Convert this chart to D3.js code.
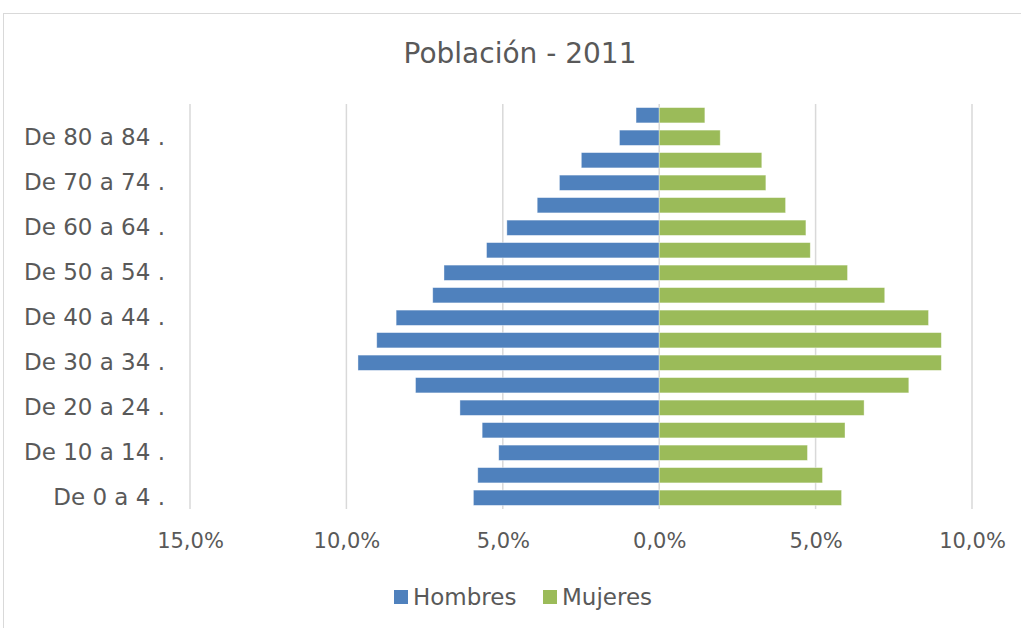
<!DOCTYPE html>
<html>
<head>
<meta charset="utf-8">
<script src="https://cdn.jsdelivr.net/npm/d3@7"></script>
<style>
  body { margin: 0; background: #fff; }
  text { font-family: "DejaVu Sans", sans-serif; fill: #595959; }
</style>
</head>
<body>
<svg id="chart"></svg>
<script>
const width = 1021;
const height = 628;

// age groups, bottom to top
const groups = ["De 0 a 4 .", "De 5 a 9 .", "De 10 a 14 .", "De 15 a 19 .", "De 20 a 24 .",
  "De 25 a 29 .", "De 30 a 34 .", "De 35 a 39 .", "De 40 a 44 .", "De 45 a 49 .",
  "De 50 a 54 .", "De 55 a 59 .", "De 60 a 64 .", "De 65 a 69 .", "De 70 a 74 .",
  "De 75 a 79 .", "De 80 a 84 .", "De 85 y más ."];
const hombres = [5.94, 5.80, 5.13, 5.66, 6.37, 7.79, 9.63, 9.03, 8.41, 7.24,
  6.88, 5.52, 4.87, 3.90, 3.19, 2.49, 1.27, 0.74];
const mujeres = [5.83, 5.22, 4.74, 5.94, 6.55, 7.98, 9.02, 9.02, 8.61, 7.21,
  6.02, 4.83, 4.69, 4.04, 3.41, 3.28, 1.95, 1.46];
const ticks = [-15, -10, -5, 0, 5, 10];
const BLUE = "#4f81bd";
const GREEN = "#9bbb59";
const FONT = '"DejaVu Sans", sans-serif';

const svg = d3.select('#chart')
    .attr('width', width)
    .attr('height', height);

// chart frame
svg.append('rect')
    .attr('x', 3.5).attr('y', 13.5)
    .attr('width', 1040).attr('height', 700)
    .attr('fill', 'none')
    .attr('stroke', '#d9d9d9');

const x = d3.scaleLinear([-15, 10], [190, 972]);
const y = d3.scaleBand(groups.slice().reverse(), [104, 509]).paddingInner(0.32).paddingOuter(0.16);

// gridlines
svg.append('g').selectAll('line')
  .data(ticks)
  .enter().append('line')
    .attr('x1', d => x(d)).attr('x2', d => x(d))
    .attr('y1', 104).attr('y2', 509)
    .attr('stroke', '#d9d9d9')
    .attr('stroke-width', 1.5);

const fmt = d => d3.format(".1f")(Math.abs(d)).replace(".", ",") + "%";

svg.append('g').attr('transform', 'translate(0,509)')
    .call(d3.axisBottom(x).tickValues(ticks).tickFormat(fmt).tickSize(0).tickPadding(24))
    .call(g => g.select('.domain').remove())
    .call(g => g.selectAll('text')
        .style('font-family', FONT)
        .style('font-size', '21px')
        .attr('fill', '#595959'));

const bars = svg.append('g');
bars.selectAll('.h')
  .data(groups)
  .enter().append('rect')
    .attr('class', 'h')
    .attr('x', (d, i) => x(-hombres[i]))
    .attr('y', d => y(d))
    .attr('width', (d, i) => x(0) - x(-hombres[i]))
    .attr('height', y.bandwidth())
    .attr('fill', BLUE)
    .attr('stroke', '#fff').attr('stroke-opacity', 0.5).attr('stroke-width', 0.75);

bars.selectAll('.m')
  .data(groups)
  .enter().append('rect')
    .attr('class', 'm')
    .attr('x', x(0))
    .attr('y', d => y(d))
    .attr('width', (d, i) => x(mujeres[i]) - x(0))
    .attr('height', y.bandwidth())
    .attr('fill', GREEN)
    .attr('stroke', '#fff').attr('stroke-opacity', 0.5).attr('stroke-width', 0.75);

// category labels (every other one, like Excel)
svg.append('g').attr('transform', 'translate(165,0)')
    .call(d3.axisLeft(y).tickValues(groups.filter((d, i) => i % 2 == 0)).tickSize(0).tickPadding(0))
    .call(g => g.select('.domain').remove())
    .call(g => g.selectAll('text')
        .style('font-family', FONT)
        .style('font-size', '23px')
        .attr('fill', '#595959'));

svg.append('text')
    .attr('x', 520).attr('y', 63)
    .attr('text-anchor', 'middle')
    .attr('font-size', '28px')
    .text('Población - 2011');

// legend
const legend = [["Hombres", BLUE], ["Mujeres", GREEN]];
const lg = svg.append('g').selectAll('g')
  .data(legend)
  .enter().append('g')
    .attr('transform', (d, i) => `translate(${[394, 543][i]},597)`);
lg.append('rect')
    .attr('x', 0).attr('y', -7)
    .attr('width', 14).attr('height', 14)
    .attr('fill', d => d[1]);
lg.append('text')
    .attr('x', 19).attr('dy', '0.36em')
    .attr('font-size', '23px')
    .text(d => d[0]);
</script>
</body>
</html>
